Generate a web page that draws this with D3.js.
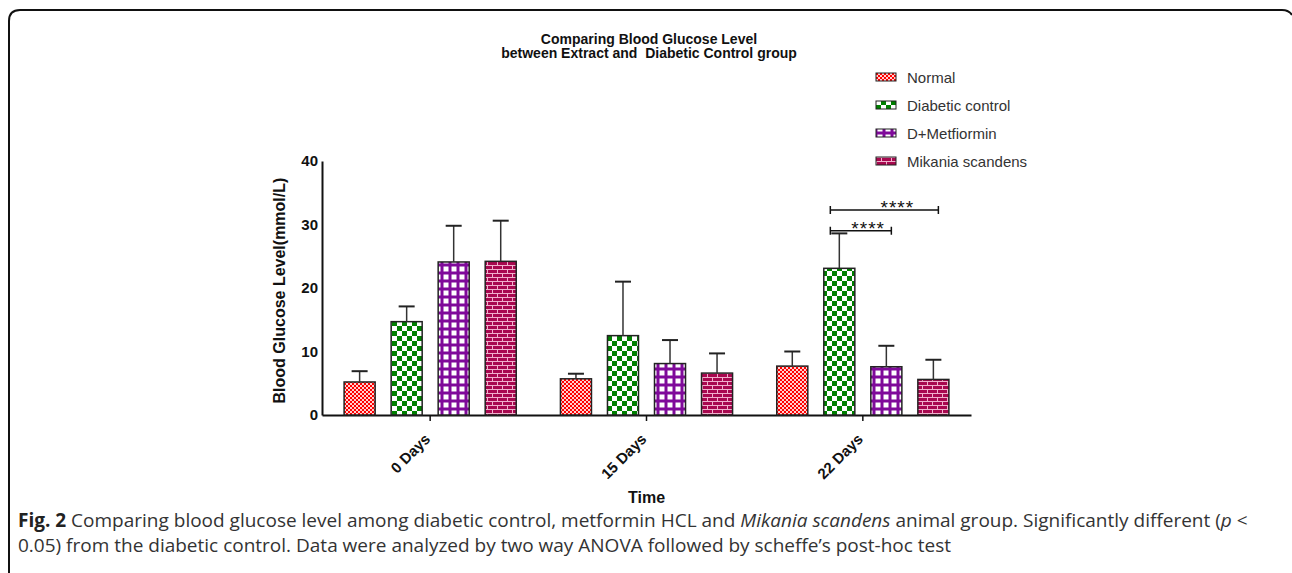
<!DOCTYPE html>
<html>
<head>
<meta charset="utf-8">
<script src="https://cdn.jsdelivr.net/npm/d3@7"></script>
<style>
  body { margin: 0; background: #fff; }
  svg { display: block; }
  .chartText { font-family: "Liberation Sans", Arial, sans-serif; }
</style>
</head>
<body>
<div id="chart"></div>
<script>
// chart data
var categories = ["0 Days", "15 Days", "22 Days"];
var series = ["Normal", "Diabetic control", "D+Metfiormin", "Mikania scandens"];

var normalMeans = [5.2, 5.7, 7.7];
var normalErr = [1.7, 0.8, 2.3];
var diabeticMeans = [14.7, 12.5, 23.1];
var diabeticErr = [2.4, 8.5, 5.5];
var metforminMeans = [24.1, 8.1, 7.6];
var metforminErr = [5.7, 3.7, 3.3];
var mikaniaMeans = [24.2, 6.6, 5.6];
var mikaniaErr = [6.4, 3.1, 3.1];

var yTicks = [0, 10, 20, 30, 40];

// significance brackets (22 Days)
var sigCategory = "22 Days";
var sigFrom = ["Diabetic control", "Diabetic control"];
var sigTo = ["D+Metfiormin", "Mikania scandens"];
var sigLevel = [29.0, 32.3];
var sigLabel = ["****", "****"];

var svgWidth = 1292;
var svgHeight = 573;

var margin = { top: 161, right: 321, bottom: 158, left: 322 };
var width = svgWidth - margin.left - margin.right;
var height = svgHeight - margin.top - margin.bottom;

var svg = d3.select("#chart")
    .append("svg")
    .attr("width", svgWidth)
    .attr("height", svgHeight);

// figure frame
svg.append("path")
    .attr("d", "M9,573 V21 Q9,10 20,10 H1282 Q1289,10 1292,15")
    .attr("fill", "none")
    .attr("stroke", "#111")
    .attr("stroke-width", 2);

// fill patterns
var defs = svg.append("defs");

var pNormal = defs.append("pattern").attr("id", "patNormal")
    .attr("patternUnits", "userSpaceOnUse").attr("width", 4).attr("height", 4);
pNormal.append("rect").attr("width", 4).attr("height", 4).attr("fill", "#ffd0d0");
pNormal.append("rect").attr("width", 2).attr("height", 2).attr("fill", "#ff0000");
pNormal.append("rect").attr("x", 2).attr("y", 2).attr("width", 2).attr("height", 2).attr("fill", "#ff0000");

var pDiab = defs.append("pattern").attr("id", "patDiabetic")
    .attr("patternUnits", "userSpaceOnUse").attr("width", 10).attr("height", 10);
pDiab.append("rect").attr("width", 10).attr("height", 10).attr("fill", "#fff");
pDiab.append("rect").attr("width", 5).attr("height", 5).attr("fill", "#008000");
pDiab.append("rect").attr("x", 5).attr("y", 5).attr("width", 5).attr("height", 5).attr("fill", "#008000");

var pMet = defs.append("pattern").attr("id", "patMetformin")
    .attr("patternUnits", "userSpaceOnUse").attr("width", 8).attr("height", 8);
pMet.append("rect").attr("width", 8).attr("height", 8).attr("fill", "#7f0a9a");
pMet.append("rect").attr("x", 1.5).attr("y", 1.5).attr("width", 5).attr("height", 5).attr("fill", "#fff");

var pMik = defs.append("pattern").attr("id", "patMikania")
    .attr("patternUnits", "userSpaceOnUse").attr("width", 10).attr("height", 8);
pMik.append("rect").attr("width", 10).attr("height", 8).attr("fill", "#a8084f");
pMik.append("path")
    .attr("d", "M0,0.5 H10 M0,4.5 H10 M0.5,0 V4 M5.5,4 V8")
    .attr("stroke", "#f0b0cc")
    .attr("stroke-width", 1);

var patternIds = ["patNormal", "patDiabetic", "patMetformin", "patMikania"];

var chartGroup = svg.append("g")
    .attr("class", "chartText")
    .attr("transform", `translate(${margin.left}, ${margin.top})`);

// scales
var x0 = d3.scaleBand()
    .domain(categories)
    .range([0, width]);

var x1 = d3.scaleBand()
    .domain(series)
    .range([0, x0.bandwidth()])
    .paddingInner(0.34)
    .paddingOuter(0.47);

var yLinearScale = d3.scaleLinear()
    .domain([0, 40])
    .range([height, 0]);

// build rows from arrays
var meansBySeries = [normalMeans, diabeticMeans, metforminMeans, mikaniaMeans];
var errBySeries = [normalErr, diabeticErr, metforminErr, mikaniaErr];
var barData = [];
categories.forEach((c, ci) => {
    series.forEach((s, si) => {
        barData.push({ cat: c, series: s, si: si, mean: meansBySeries[si][ci], err: errBySeries[si][ci] });
    });
});

// axes
var leftAxis = d3.axisLeft(yLinearScale)
    .tickValues(yTicks)
    .tickSize(0)
    .tickPadding(4);

var yAxisG = chartGroup.append("g").call(leftAxis);
yAxisG.select(".domain").attr("stroke", "#111").attr("stroke-width", 2);
yAxisG.selectAll("text")
    .attr("font-family", "Liberation Sans, Arial, sans-serif")
    .attr("font-size", "15px")
    .attr("font-weight", "bold")
    .attr("fill", "#111");

var bottomAxis = d3.axisBottom(x0)
    .tickSizeInner(6)
    .tickSizeOuter(0);

var xAxisG = chartGroup.append("g")
    .attr("transform", `translate(0, ${height})`)
    .call(bottomAxis);
xAxisG.select(".domain").attr("stroke", "#111").attr("stroke-width", 2);
xAxisG.selectAll(".tick line").attr("stroke", "#111").attr("stroke-width", 1.5);
xAxisG.selectAll("text")
    .attr("font-family", "Liberation Sans, Arial, sans-serif")
    .attr("font-size", "15px")
    .attr("font-weight", "bold")
    .attr("fill", "#111")
    .attr("x", 0)
    .attr("y", 0)
    .attr("dy", 0)
    .attr("text-anchor", "end")
    .attr("transform", "translate(1, 25) rotate(-45)");

// bars
chartGroup.selectAll(".bar")
    .data(barData)
    .enter()
    .append("rect")
    .attr("class", "bar")
    .attr("x", d => x0(d.cat) + x1(d.series))
    .attr("y", d => yLinearScale(d.mean))
    .attr("width", x1.bandwidth())
    .attr("height", d => height - yLinearScale(d.mean))
    .attr("fill", d => `url(#${patternIds[d.si]})`)
    .attr("stroke", "#222")
    .attr("stroke-width", 1.5);

// error bars (upper only)
var errG = chartGroup.selectAll(".err")
    .data(barData)
    .enter()
    .append("g")
    .attr("class", "err")
    .attr("transform", d => `translate(${x0(d.cat) + x1(d.series) + x1.bandwidth() / 2}, 0)`);

errG.append("line")
    .attr("x1", 0).attr("x2", 0)
    .attr("y1", d => yLinearScale(d.mean))
    .attr("y2", d => yLinearScale(d.mean + d.err))
    .attr("stroke", "#333")
    .attr("stroke-width", 1.5);

errG.append("line")
    .attr("x1", -8).attr("x2", 8)
    .attr("y1", d => yLinearScale(d.mean + d.err))
    .attr("y2", d => yLinearScale(d.mean + d.err))
    .attr("stroke", "#222")
    .attr("stroke-width", 2);

// significance brackets
sigLevel.forEach((lvl, i) => {
    var cx = s => x0(sigCategory) + x1(s) + x1.bandwidth() / 2;
    var xa = cx(sigFrom[i]) - 9;
    var xb = cx(sigTo[i]) + 5;
    var yy = yLinearScale(lvl);
    chartGroup.append("path")
        .attr("d", `M${xa},${yy - 4} V${yy + 4} M${xa},${yy} H${xb} M${xb},${yy - 4} V${yy + 4}`)
        .attr("fill", "none")
        .attr("stroke", "#111")
        .attr("stroke-width", 1.5);
    chartGroup.append("text")
        .attr("x", (xa + xb) / 2 + (xb - xa) * 0.12)
        .attr("y", yy + 4)
        .attr("text-anchor", "middle")
        .attr("font-size", "19px")
        .attr("letter-spacing", "1px")
        .attr("fill", "#111")
        .text(sigLabel[i]);
});

// y axis label
chartGroup.append("text")
    .attr("transform", "rotate(-90)")
    .attr("x", 0 - yLinearScale(19.6))
    .attr("y", -37)
    .attr("text-anchor", "middle")
    .attr("font-size", "16px")
    .attr("font-weight", "bold")
    .attr("fill", "#111")
    .text("Blood Glucose Level(mmol/L)");

// x axis label
chartGroup.append("text")
    .attr("x", width / 2)
    .attr("y", height + 88)
    .attr("text-anchor", "middle")
    .attr("font-size", "16px")
    .attr("font-weight", "bold")
    .attr("fill", "#111")
    .text("Time");

// title
var title = svg.append("text")
    .attr("class", "chartText")
    .attr("text-anchor", "middle")
    .attr("font-size", "14px")
    .attr("font-weight", "bold")
    .attr("fill", "#111");
title.append("tspan").attr("x", 649).attr("y", 44).text("Comparing Blood Glucose Level");
title.append("tspan").attr("x", 649).attr("y", 58).text("between Extract and \u00a0Diabetic Control group");

// legend
var legend = svg.append("g")
    .attr("class", "chartText")
    .attr("transform", "translate(876, 77)");

var legendItem = legend.selectAll(".legendItem")
    .data(series)
    .enter()
    .append("g")
    .attr("class", "legendItem")
    .attr("transform", (d, i) => `translate(0, ${i * 28})`);

legendItem.append("rect")
    .attr("x", 0).attr("y", -4)
    .attr("width", 20).attr("height", 8)
    .attr("fill", (d, i) => `url(#${patternIds[i]})`)
    .attr("stroke", "#222")
    .attr("stroke-width", 1);

legendItem.append("text")
    .attr("x", 31)
    .attr("y", 5.5)
    .attr("font-size", "15px")
    .attr("fill", "#333")
    .text(d => d);

// caption
var caption = svg.append("g")
    .attr("font-family", "'Open Sans', sans-serif")
    .attr("font-size", "19px")
    .attr("fill", "#333");

var cap1 = caption.append("text").attr("x", 18).attr("y", 527);
cap1.append("tspan").attr("font-weight", "bold").attr("fill", "#222").text("Fig. 2");
cap1.append("tspan").text(" Comparing blood glucose level among diabetic control, metformin HCL and ");
cap1.append("tspan").attr("font-style", "italic").text("Mikania scandens");
cap1.append("tspan").text(" animal group. Significantly different (");
cap1.append("tspan").attr("font-style", "italic").text("p");
cap1.append("tspan").text(" <");

caption.append("text").attr("x", 18).attr("y", 552)
    .text("0.05) from the diabetic control. Data were analyzed by two way ANOVA followed by scheffe\u2019s post-hoc test");
</script>
</body>
</html>
